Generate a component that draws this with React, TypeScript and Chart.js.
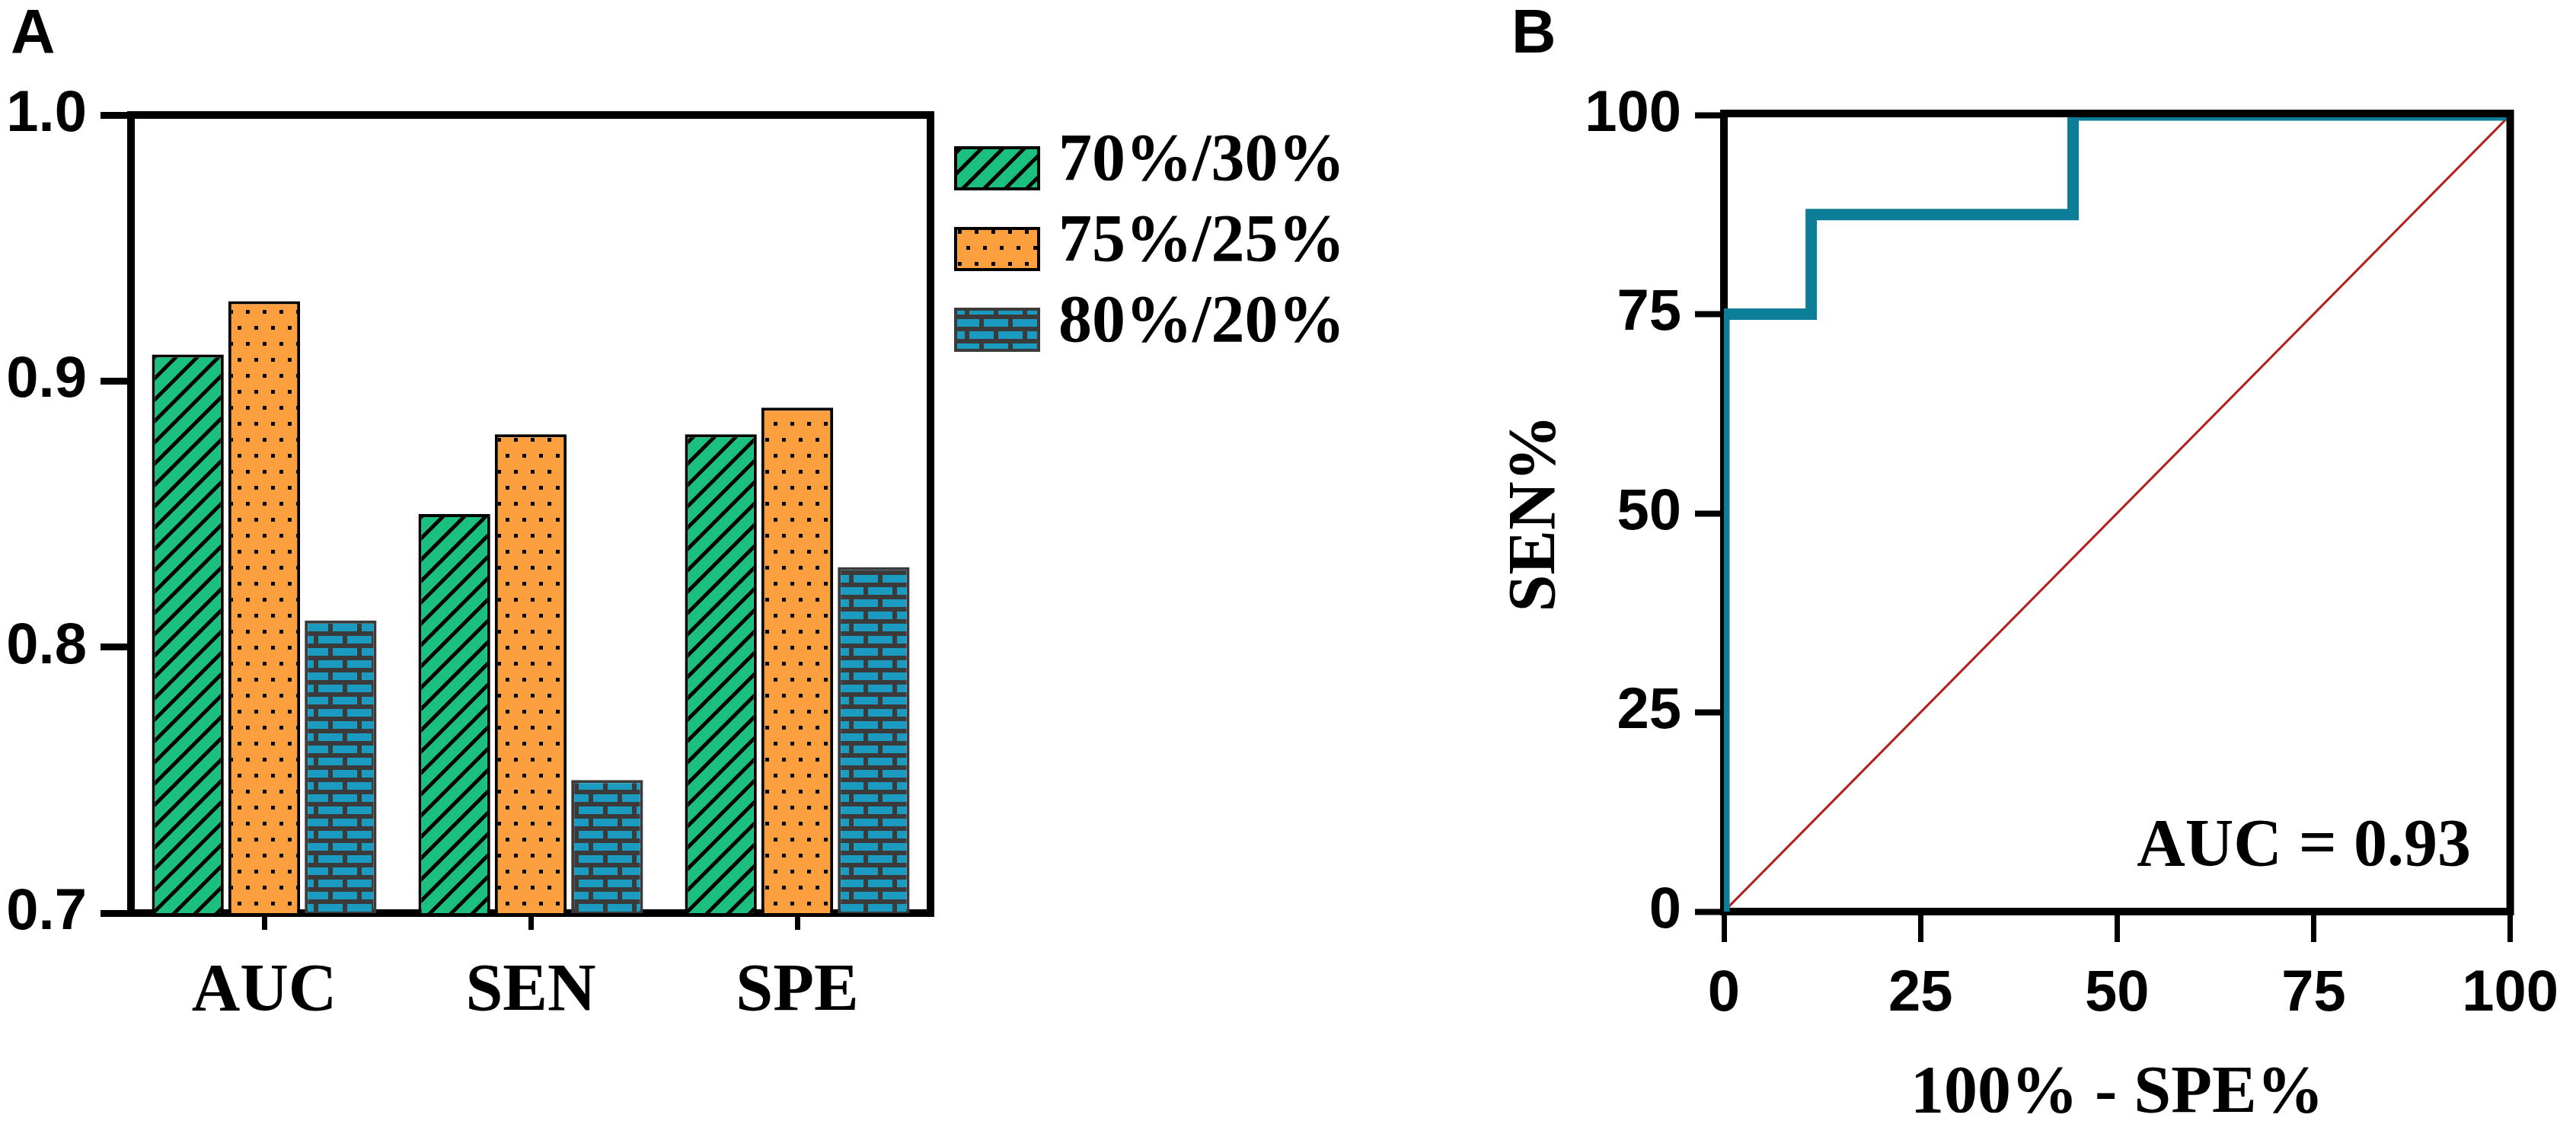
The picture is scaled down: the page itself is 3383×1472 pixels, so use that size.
import { useEffect, useRef } from 'react';
import Chart from 'chart.js/auto';

// Panel A: model metrics for the three train/test splits
const metricLabels = ['AUC', 'SEN', 'SPE'];
const splitLabels = ['70%/30%', '75%/25%', '80%/20%'];
const split70 = [0.91, 0.85, 0.88];
const split75 = [0.93, 0.88, 0.89];
const split80 = [0.81, 0.75, 0.83];
const scoreTicks = [0.7, 0.8, 0.9, 1.0];

// Panel B: ROC curve
const rocFpr = [0, 0, 11.1, 44.4, 100];
const rocSen = [0, 75, 87.5, 100, 100];
const chanceFpr = [0, 100];
const chanceSen = [0, 100];
const percentTicks = [0, 25, 50, 75, 100];
const aucText = 'AUC = 0.93';

const SANS = '"Liberation Sans", Arial, sans-serif';
const SERIF = '"Liberation Serif", "Times New Roman", serif';

const GREEN = '#1cc07e';
const ORANGE = '#fca03f';
const BRICK = '#1c9bc0';
const MORTAR = '#3b3b3b';
const TEAL = '#0d7e98';
const RED = '#b3201d';

const makeTile = (
  target: CanvasRenderingContext2D,
  w: number,
  h: number,
  draw: (c: CanvasRenderingContext2D) => void
) => {
  const cv = document.createElement('canvas');
  cv.width = w;
  cv.height = h;
  const c = cv.getContext('2d') as CanvasRenderingContext2D;
  draw(c);
  return target.createPattern(cv, 'repeat') as CanvasPattern;
};

const hatchPattern = (ctx: CanvasRenderingContext2D) =>
  makeTile(ctx, 28, 28, (c) => {
    const s = 28;
    c.fillStyle = GREEN;
    c.fillRect(0, 0, s, s);
    c.strokeStyle = '#000';
    c.lineWidth = 5;
    c.beginPath();
    c.moveTo(0, s);
    c.lineTo(s, 0);
    c.moveTo(-s / 4, s / 4);
    c.lineTo(s / 4, -s / 4);
    c.moveTo((3 * s) / 4, (5 * s) / 4);
    c.lineTo((5 * s) / 4, (3 * s) / 4);
    c.stroke();
  });

const dotPattern = (ctx: CanvasRenderingContext2D) =>
  makeTile(ctx, 22, 42, (c) => {
    c.fillStyle = ORANGE;
    c.fillRect(0, 0, 22, 42);
    c.fillStyle = '#000';
    c.fillRect(4, 8, 5, 5);
    c.fillRect(15, 29, 5, 5);
  });

const brickPattern = (ctx: CanvasRenderingContext2D) =>
  makeTile(ctx, 38, 32, (c) => {
    c.fillStyle = MORTAR;
    c.fillRect(0, 0, 38, 32);
    c.fillStyle = BRICK;
    c.fillRect(0, 3, 32, 10);
    c.fillRect(19, 19, 32, 10);
    c.fillRect(-19, 19, 32, 10);
  });

const panelLetter = (letter: string, x: number) => ({
  id: 'panelLetter' + letter,
  afterDraw(chart: Chart) {
    const ctx = chart.ctx;
    ctx.save();
    ctx.fillStyle = '#000';
    ctx.font = `bold 81px ${SANS}`;
    ctx.textBaseline = 'alphabetic';
    ctx.fillText(letter, x, 69);
    ctx.restore();
  },
});

const frame = (topShift: number) => ({
  id: 'frame',
  afterDatasetsDraw(chart: Chart) {
    const { ctx, chartArea } = chart;
    const { left, right, top, bottom } = chartArea;
    ctx.save();
    ctx.strokeStyle = '#000';
    ctx.lineWidth = 10;
    ctx.lineCap = 'butt';
    ctx.beginPath();
    ctx.moveTo(left - 5, top - topShift);
    ctx.lineTo(right + 5, top - topShift);
    ctx.moveTo(right, top - topShift - 5);
    ctx.lineTo(right, bottom + 5);
    ctx.stroke();
    ctx.restore();
  },
});

const sideLegend = {
  id: 'sideLegend',
  afterDraw(chart: Chart) {
    const ctx = chart.ctx;
    const x = chart.chartArea.right + 31;
    ctx.save();
    chart.data.datasets.forEach((ds: any, i: number) => {
      const y = 192 + i * 106;
      ctx.fillStyle = ds.backgroundColor;
      ctx.fillRect(x, y, 113, 58);
      ctx.strokeStyle = ds.borderColor;
      ctx.lineWidth = 4;
      ctx.strokeRect(x + 2, y + 2, 109, 54);
      ctx.fillStyle = '#000';
      ctx.font = `bold 88px ${SERIF}`;
      ctx.textBaseline = 'middle';
      ctx.textAlign = 'left';
      ctx.fillText(ds.label, x + 137, y + 21);
    });
    ctx.restore();
  },
};

const aucLabel = {
  id: 'aucLabel',
  afterDraw(chart: Chart) {
    const { ctx, scales } = chart;
    ctx.save();
    ctx.fillStyle = '#000';
    ctx.font = `bold 88px ${SERIF}`;
    ctx.textAlign = 'right';
    ctx.textBaseline = 'middle';
    ctx.fillText(aucText, scales.x.getPixelForValue(95), scales.y.getPixelForValue(8));
    ctx.restore();
  },
};

const BarPanel = () => {
  const chartRef = useRef<HTMLCanvasElement>(null);
  const chartInstance = useRef<Chart | null>(null);

  useEffect(() => {
    if (!chartRef.current) return;
    const ctx = chartRef.current.getContext('2d');
    if (!ctx) return;
    if (chartInstance.current) chartInstance.current.destroy();

    const fills = [hatchPattern(ctx), dotPattern(ctx), brickPattern(ctx)];
    const borders = ['#000', '#000', MORTAR];
    const series = [split70, split75, split80];

    chartInstance.current = new Chart(ctx, {
      type: 'bar',
      data: {
        labels: metricLabels,
        datasets: series.map((values, i) => ({
          label: splitLabels[i],
          data: values,
          backgroundColor: fills[i],
          borderColor: borders[i],
          borderWidth: 4,
          borderSkipped: false,
          categoryPercentage: 0.86,
          barPercentage: 0.94,
        })),
      },
      options: {
        responsive: false,
        animation: false,
        layout: { padding: { top: 151, right: 578, left: 0, bottom: 0 } },
        plugins: { legend: { display: false }, tooltip: { enabled: false } },
        scales: {
          x: {
            z: 1,
            grid: {
              offset: false,
              drawOnChartArea: false,
              tickLength: 22,
              tickWidth: 7,
              tickColor: '#000',
            },
            border: { width: 10, color: '#000' },
            ticks: {
              color: '#000',
              font: { family: SERIF, size: 88, weight: 'bold' },
              padding: 29,
              autoSkip: false,
              maxRotation: 0,
            },
            afterFit: (s: any) => {
              s.height = 273;
            },
          },
          y: {
            min: 0.7,
            max: 1.0,
            afterBuildTicks: (s: any) => {
              s.ticks = scoreTicks.map((value) => ({ value }));
            },
            grid: {
              drawOnChartArea: false,
              tickLength: 40,
              tickWidth: 9,
              tickColor: '#000',
            },
            border: { width: 10, color: '#000' },
            ticks: {
              color: '#000',
              font: { family: SANS, size: 76, weight: 'bold' },
              padding: 18,
              callback: (v: any) => Number(v).toFixed(1),
            },
            afterFit: (s: any) => {
              s.width = 172;
            },
          },
        },
      },
      plugins: [frame(0), sideLegend, panelLetter('A', 14)],
    });

    return () => {
      if (chartInstance.current) {
        chartInstance.current.destroy();
        chartInstance.current = null;
      }
    };
  }, []);

  return (
    <canvas
      ref={chartRef}
      width={1800}
      height={1472}
      style={{ position: 'absolute', left: 0, top: 0 }}
    />
  );
};

const RocPanel = () => {
  const chartRef = useRef<HTMLCanvasElement>(null);
  const chartInstance = useRef<Chart | null>(null);

  useEffect(() => {
    if (!chartRef.current) return;
    const ctx = chartRef.current.getContext('2d');
    if (!ctx) return;
    if (chartInstance.current) chartInstance.current.destroy();

    const tickFont = { family: SANS, size: 76, weight: 'bold' as const };
    const titleFont = { family: SERIF, size: 88, weight: 'bold' as const };

    chartInstance.current = new Chart(ctx, {
      type: 'line',
      data: {
        datasets: [
          {
            label: 'ROC',
            data: rocFpr.map((x, i) => ({ x, y: rocSen[i] })),
            borderColor: TEAL,
            borderWidth: 15,
            // horizontal run first, then the vertical jump
            stepped: 'before',
            pointRadius: 0,
            fill: false,
            borderJoinStyle: 'miter',
            borderCapStyle: 'butt',
          },
          {
            label: 'Reference',
            data: chanceFpr.map((x, i) => ({ x, y: chanceSen[i] })),
            borderColor: RED,
            borderWidth: 3,
            pointRadius: 0,
            fill: false,
          },
        ],
      },
      options: {
        responsive: false,
        animation: false,
        layout: { padding: { top: 151, right: 69, left: 0, bottom: 0 } },
        plugins: { legend: { display: false }, tooltip: { enabled: false } },
        scales: {
          x: {
            type: 'linear',
            min: 0,
            max: 100,
            afterBuildTicks: (s: any) => {
              s.ticks = percentTicks.map((value) => ({ value }));
            },
            grid: {
              drawOnChartArea: false,
              tickLength: 40,
              tickWidth: 7,
              tickColor: '#000',
            },
            border: { width: 10, color: '#000' },
            ticks: { color: '#000', font: tickFont, padding: 23, maxRotation: 0, autoSkip: false },
            title: {
              display: true,
              text: '100% - SPE%',
              color: '#000',
              font: { ...titleFont, lineHeight: 0.8 },
              padding: { top: 0, bottom: 0 },
            },
            afterFit: (s: any) => {
              s.height = 275;
            },
          },
          y: {
            type: 'linear',
            min: 0,
            max: 100,
            afterBuildTicks: (s: any) => {
              s.ticks = percentTicks.map((value) => ({ value }));
            },
            grid: {
              drawOnChartArea: false,
              tickLength: 38,
              tickWidth: 8,
              tickColor: '#000',
            },
            border: { width: 10, color: '#000' },
            ticks: { color: '#000', font: tickFont, padding: 18 },
            title: {
              display: true,
              text: 'SEN%',
              color: '#000',
              font: { ...titleFont, lineHeight: 1.2 },
              padding: { top: 265, bottom: 0 },
            },
            afterFit: (s: any) => {
              s.width = 564;
            },
          },
        },
      },
      plugins: [frame(2), aucLabel, panelLetter('B', 285)],
    });

    return () => {
      if (chartInstance.current) {
        chartInstance.current.destroy();
        chartInstance.current = null;
      }
    };
  }, []);

  return (
    <canvas
      ref={chartRef}
      width={1683}
      height={1472}
      style={{ position: 'absolute', left: 1700, top: 0 }}
    />
  );
};

const App = () => (
  <div
    style={{
      position: 'absolute',
      left: 0,
      top: 0,
      width: 3383,
      height: 1472,
      background: '#fff',
      overflow: 'hidden',
    }}
  >
    <BarPanel />
    <RocPanel />
  </div>
);

export default App;
